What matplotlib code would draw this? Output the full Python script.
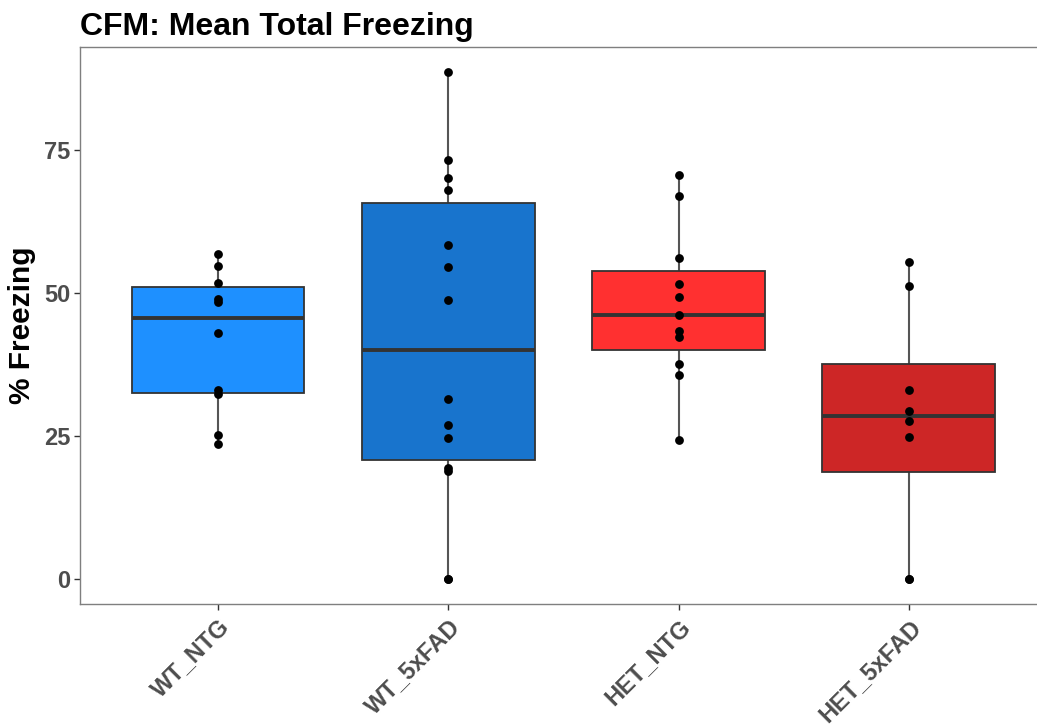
import matplotlib
matplotlib.use("Agg")
import matplotlib.pyplot as plt
import numpy as np

# Percent freezing per animal, by genotype group
groups = ["WT_NTG", "WT_5xFAD", "HET_NTG", "HET_5xFAD"]
wt_ntg = [23.6, 25.1, 32.2, 32.9, 42.9, 48.3, 48.9, 51.7, 54.7, 56.8]
wt_5xfad = [0.0, 0.0, 18.9, 19.4, 24.6, 26.8, 31.4, 48.7, 54.4, 58.4,
            68.0, 70.1, 73.1, 88.5]
het_ntg = [24.2, 35.6, 37.5, 42.3, 43.3, 46.0, 49.2, 51.5, 56.1, 66.8, 70.6]
het_5xfad = [0.0, 0.0, 24.8, 27.6, 29.3, 33.0, 51.2, 55.3]
values = [wt_ntg, wt_5xfad, het_ntg, het_5xfad]
fills = ["#1E90FF", "#1874CD", "#FF3030", "#CD2626"]
yticks = [0, 25, 50, 75]

plt.rcParams["font.family"] = ["Liberation Sans", "DejaVu Sans"]

fig = plt.figure(figsize=(10.37, 7.25), dpi=100)
# the panel runs slightly past the right edge of the canvas
ax = fig.add_axes([0.0771, 0.1669, 0.9325, 0.7683])

pos = np.arange(1, len(groups) + 1)
bp = ax.boxplot(values, positions=pos, widths=0.75, patch_artist=True,
                showfliers=False, showcaps=False, whis=1.5, zorder=2,
                boxprops=dict(edgecolor="#333333", linewidth=1.3),
                whiskerprops=dict(color="#555555", linewidth=1.5),
                medianprops=dict(color="#333333", linewidth=2.8))
for patch, c in zip(bp["boxes"], fills):
    patch.set_facecolor(c)
for w in bp["whiskers"]:
    w.set_zorder(1)

for x, vals in zip(pos, values):
    ax.scatter(np.full(len(vals), x), vals, s=40, color="black", zorder=4,
               linewidths=0)

ymax = max(max(v) for v in values)
ymin = min(min(v) for v in values)
pad = 0.05 * (ymax - ymin)
ax.set_ylim(ymin - pad, ymax + pad)
ax.set_xlim(0.4, len(groups) + 0.6)

ax.set_yticks(yticks)
ax.set_yticklabels([str(t) for t in yticks])
ax.set_xticks(pos)
ax.set_xticklabels(groups, rotation=45, ha="right", va="top",
                   rotation_mode="anchor")

for lab in ax.get_xticklabels() + ax.get_yticklabels():
    lab.set_fontweight("bold")
    lab.set_color("#4D4D4D")
    lab.set_fontsize(17)

ax.tick_params(axis="both", length=4, width=1, color="#333333", pad=3)
ax.tick_params(axis="x", pad=4)

for sp in ax.spines.values():
    sp.set_color("#7F7F7F")
    sp.set_linewidth(1.0)

ax.set_ylabel("% Freezing", fontsize=21.5, fontweight="bold", color="black",
              labelpad=6)
fig.text(0.0771, 0.952, "CFM: Mean Total Freezing", fontsize=23,
         fontweight="bold", ha="left", va="baseline")

fig.savefig("out.png", dpi=100)
